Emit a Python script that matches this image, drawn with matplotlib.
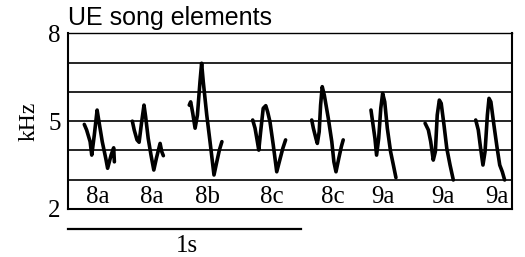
import matplotlib
matplotlib.use("Agg")
import matplotlib.pyplot as plt

# Song elements: time (s), frequency (kHz)
t_8a_1 = [0.071, 0.081, 0.096, 0.103, 0.114, 0.126, 0.134, 0.148, 0.163, 0.171, 0.186, 0.197, 0.200]
f_8a_1 = [4.89, 4.70, 4.30, 3.84, 4.53, 5.38, 4.98, 4.30, 3.73, 3.39, 3.84, 4.09, 3.61]

t_8a_2 = [0.277, 0.285, 0.297, 0.306, 0.317, 0.327, 0.334, 0.345, 0.357, 0.369, 0.380, 0.396, 0.403, 0.410]
f_8a_2 = [5.00, 4.70, 4.36, 4.28, 4.98, 5.55, 5.15, 4.41, 3.84, 3.33, 3.73, 4.24, 3.96, 3.82]

t_8b = [0.521, 0.527, 0.536, 0.546, 0.556, 0.567, 0.574, 0.581, 0.596, 0.610, 0.627, 0.639, 0.650, 0.661]
f_8b = [5.55, 5.66, 5.27, 4.76, 5.21, 6.35, 6.98, 6.35, 5.21, 4.30, 3.16, 3.61, 4.01, 4.30]

t_8c_1 = [0.793, 0.803, 0.813, 0.819, 0.827, 0.838, 0.849, 0.857, 0.867, 0.881, 0.896, 0.907, 0.922, 0.934]
f_8c_1 = [5.04, 4.76, 4.30, 4.01, 4.64, 5.44, 5.53, 5.32, 4.98, 4.19, 3.27, 3.61, 4.07, 4.36]

t_8c_2 = [1.046, 1.053, 1.064, 1.070, 1.078, 1.084, 1.091, 1.100, 1.117, 1.132, 1.141, 1.150, 1.162, 1.173, 1.181]
f_8c_2 = [5.04, 4.76, 4.41, 4.24, 4.64, 5.55, 6.18, 5.89, 5.10, 4.30, 3.61, 3.27, 3.73, 4.13, 4.36]

t_9a_1 = [1.300, 1.307, 1.317, 1.324, 1.333, 1.342, 1.350, 1.359, 1.370, 1.384, 1.396, 1.407]
f_9a_1 = [5.38, 4.98, 4.41, 3.84, 4.41, 5.44, 5.95, 5.66, 4.76, 3.96, 3.50, 3.07]

t_9a_2 = [1.532, 1.546, 1.556, 1.567, 1.576, 1.584, 1.593, 1.601, 1.613, 1.625, 1.639, 1.653]
f_9a_2 = [4.93, 4.70, 4.30, 3.67, 3.96, 5.21, 5.72, 5.61, 4.87, 4.07, 3.50, 2.99]

t_9a_3 = [1.749, 1.760, 1.770, 1.780, 1.789, 1.799, 1.806, 1.814, 1.827, 1.841, 1.852, 1.863, 1.873]
f_9a_3 = [5.04, 4.70, 4.07, 3.50, 3.96, 5.21, 5.78, 5.66, 4.87, 4.07, 3.50, 3.27, 2.99]

labels = ["8a", "8a", "8b", "8c", "8c", "9a", "9a", "9a"]
label_t = [0.130, 0.361, 0.601, 0.876, 1.137, 1.351, 1.609, 1.841]
grid_khz = [3, 4, 5, 6, 7]
yticks = [2, 5, 8]

traces = [(t_8a_1, f_8a_1), (t_8a_2, f_8a_2), (t_8b, f_8b), (t_8c_1, f_8c_1),
          (t_8c_2, f_8c_2), (t_9a_1, f_9a_1), (t_9a_2, f_9a_2), (t_9a_3, f_9a_3)]

serif = ["Liberation Serif", "DejaVu Serif"]

fig = plt.figure(figsize=(5.25, 2.57), dpi=100)
ax = fig.add_axes([0.129, 0.187, 0.846, 0.683])

for k in grid_khz:
    ax.axhline(k, color="black", lw=1.2, zorder=1)

for t, f in traces:
    ax.plot(t, f, color="black", lw=2.6, solid_capstyle="round",
            solid_joinstyle="round", zorder=3)

for lab, x in zip(labels, label_t):
    ax.text(x, 2.4, lab, ha="center", va="center", fontsize=18, family=serif)

ax.set_xlim(0, 1.904)
ax.set_ylim(2, 8)
ax.set_xticks([])
ax.set_yticks(yticks)
ax.set_yticklabels([str(v) for v in yticks], family=serif, fontsize=18)
ax.tick_params(axis="y", length=0, pad=5)
ax.set_ylabel("kHz", family=serif, fontsize=17, labelpad=6)
for side in ["left", "bottom", "right"]:
    ax.spines[side].set_linewidth(1.5)
ax.spines["top"].set_linewidth(1.0)

ax.set_title("UE song elements", loc="left", family=["Liberation Sans", "DejaVu Sans"],
             fontsize=18, pad=6)

# 1 s scale bar under the plot
ax.plot([0, 1], [1.32, 1.32], color="black", lw=1.6, clip_on=False)
ax.text(0.51, 0.74, "1s", ha="center", va="center", fontsize=18, family=serif)

fig.savefig("out.png", dpi=100)
